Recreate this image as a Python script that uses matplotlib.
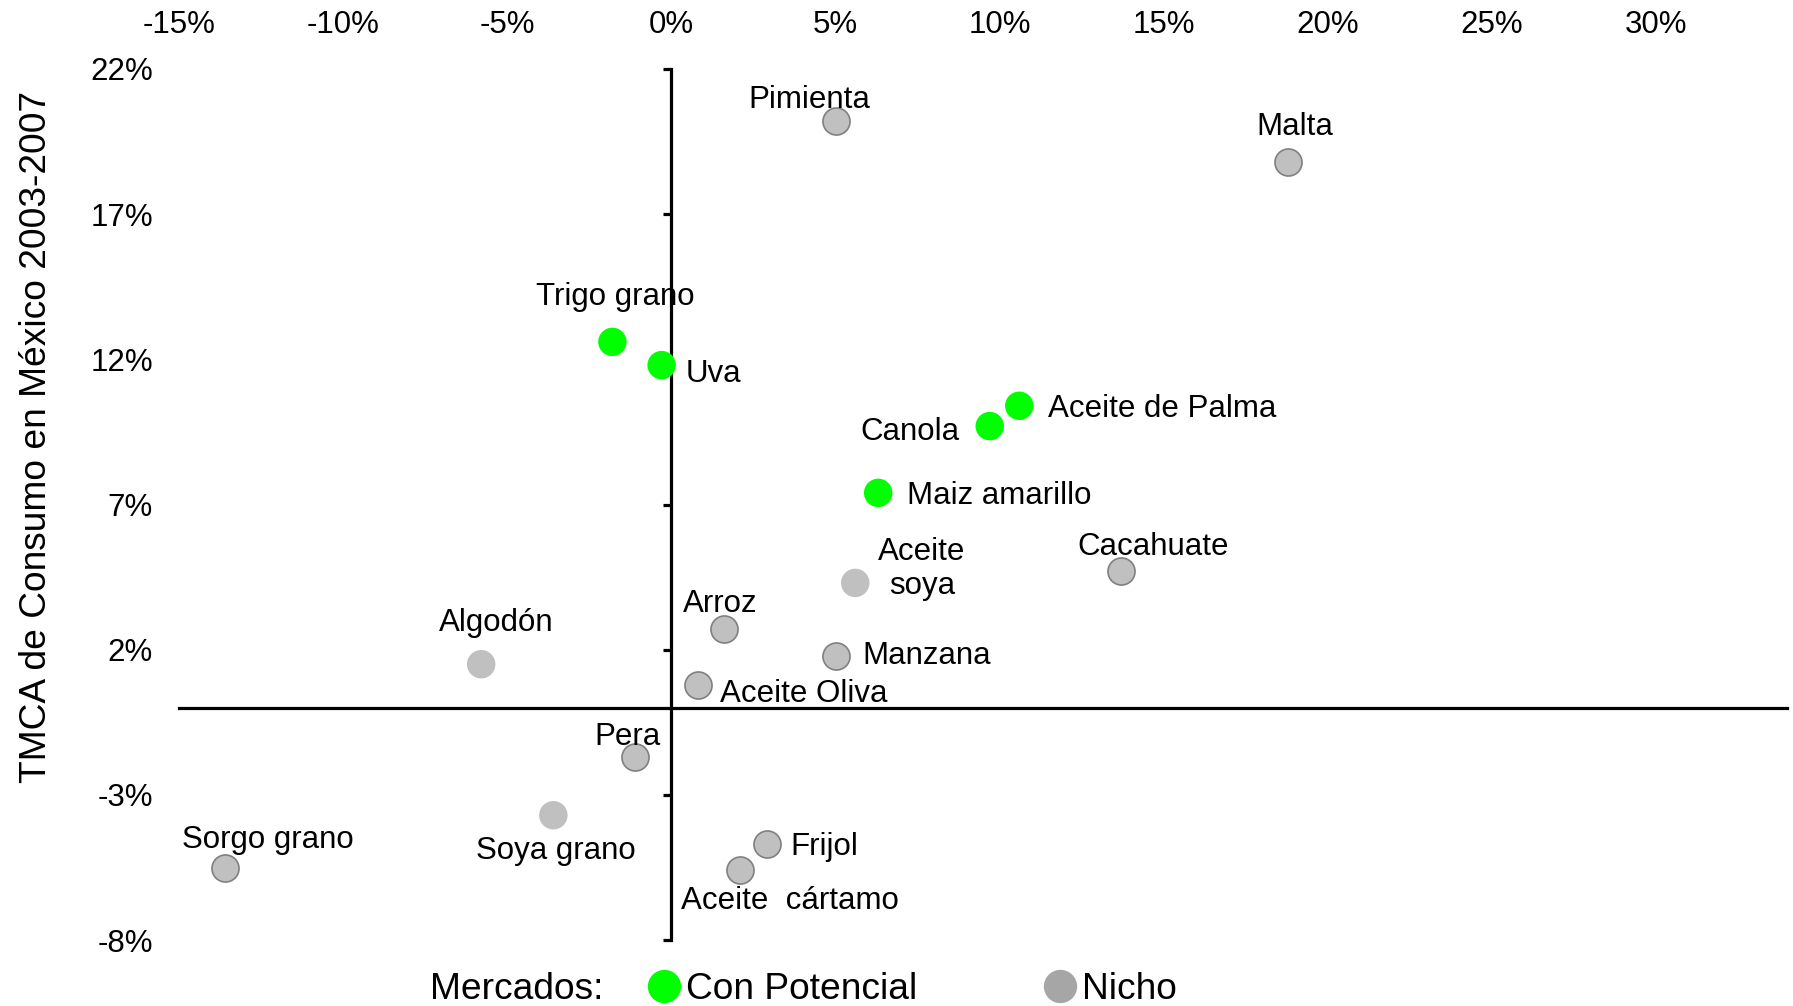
import matplotlib
matplotlib.use("Agg")
import matplotlib.pyplot as plt
from matplotlib.lines import Line2D
from matplotlib.ticker import FuncFormatter

plt.rcParams['font.family'] = ['Liberation Sans', 'DejaVu Sans']

# datos: TMCA de produccion (x) y de consumo (y), en %
productos = ["Pimienta", "Malta", "Trigo grano", "Uva", "Aceite de Palma", "Canola",
             "Maiz amarillo", "Aceite\nsoya", "Cacahuate", "Arroz", "Manzana",
             "Aceite Oliva", "Algodón", "Pera", "Soya grano", "Sorgo grano",
             "Frijol", "Aceite  cártamo"]
tmca_x = [5.0, 18.8, -1.8, -0.3, 10.6, 9.7, 6.3, 5.6, 13.7, 1.6, 5.0,
          0.8, -5.8, -1.1, -3.6, -13.6, 2.9, 2.1]
tmca_y = [20.2, 18.8, 12.6, 11.8, 10.4, 9.7, 7.4, 4.3, 4.7, 2.7, 1.8,
          0.8, 1.5, -1.7, -3.7, -5.5, -4.7, -5.6]
mercado = ["Nicho", "Nicho", "Con Potencial", "Con Potencial", "Con Potencial",
           "Con Potencial", "Con Potencial", "Nicho", "Nicho", "Nicho", "Nicho",
           "Nicho", "Nicho", "Nicho", "Nicho", "Nicho", "Nicho", "Nicho"]
x_ticks = [-15, -10, -5, 0, 5, 10, 15, 20, 25, 30]
y_ticks = [-8, -3, 2, 7, 12, 17, 22]

# estilo de las etiquetas: (dx, dy en puntos, ha)
etiqueta = {
    "Pimienta": (-19, 15.5, "center"), "Malta": (5, 25, "center"),
    "Trigo grano": (2, 32, "center"), "Uva": (17, -6.5, "left"),
    "Aceite de Palma": (21, -2, "left"), "Canola": (-22, -4.5, "right"),
    "Maiz amarillo": (21, -2, "left"), "Aceite\nsoya": (48, 10, "center"),
    "Cacahuate": (23, 17.5, "center"), "Arroz": (-3, 18.5, "center"),
    "Manzana": (19, -0.5, "left"), "Aceite Oliva": (16, -7, "left"),
    "Algodón": (11, 29.5, "center"), "Pera": (-6, 14.5, "center"),
    "Soya grano": (2, -26, "center"), "Sorgo grano": (31, 19.5, "center"),
    "Frijol": (17, -2, "left"), "Aceite  cártamo": (36, -22, "center"),
}
sin_borde = ["Algodón", "Soya grano", "Aceite\nsoya"]

fig = plt.figure(figsize=(17.93, 10.06), dpi=100)
ax = fig.add_axes([0.1, 0.0655, 0.8967, 0.866])
ax.set_xlim(-14.9, 34)
ax.set_ylim(-8, 22)

for n, x, y, m in zip(productos, tmca_x, tmca_y, mercado):
    if m == "Con Potencial":
        ax.scatter(x, y, s=420, color="#00ff00", edgecolor="none", zorder=3)
    elif n in sin_borde:
        ax.scatter(x, y, s=420, color="#c0c0c0", edgecolor="none", zorder=3)
    else:
        ax.scatter(x, y, s=380, color="#c0c0c0", edgecolor="#808080", linewidth=1.2, zorder=3)
    dx, dy, ha = etiqueta[n]
    ax.annotate(n, (x, y), xytext=(dx, dy), textcoords="offset points",
                ha=ha, va="center", fontsize=22.5, multialignment="center", zorder=4)

ax.spines['top'].set_visible(False)
ax.spines['right'].set_visible(False)
ax.spines['left'].set_position(('data', 0))
ax.spines['bottom'].set_position(('data', 0))
ax.spines['left'].set_linewidth(2.3)
ax.spines['bottom'].set_linewidth(2.3)

pct = FuncFormatter(lambda v, p: "%d%%" % v)
ax.xaxis.set_ticks_position('top')
ax.set_xticks(x_ticks)
ax.xaxis.set_major_formatter(pct)
ax.tick_params(axis='x', length=0, pad=20.5, labelsize=22.5)

ax.set_yticks(y_ticks)
ax.tick_params(axis='y', direction='out', length=6, width=2.3, labelleft=False)
sec = ax.secondary_yaxis('left')
sec.spines['left'].set_visible(False)
sec.set_yticks(y_ticks)
sec.yaxis.set_major_formatter(pct)
sec.tick_params(axis='y', length=0, pad=19, labelsize=22.5)

fig.text(37 / 1793, 0.5656, "TMCA de Consumo en México 2003-2007", rotation=90,
         ha="center", va="center", fontsize=26.7)

fig.text(430 / 1793, 0.016, "Mercados:", ha="left", va="center", fontsize=26.7)
handles = [Line2D([], [], ls="none", marker="o", markersize=24, color="#00ff00", mec="none"),
           Line2D([], [], ls="none", marker="o", markersize=24, color="#a6a6a6", mec="none")]
fig.legend(handles, ["Con Potencial", "Nicho"], ncol=2, loc="center left",
           bbox_to_anchor=(645 / 1793, 0.016), frameon=False, fontsize=26.7,
           handlelength=1.0, handletextpad=0.1, columnspacing=3.35,
           borderpad=0, borderaxespad=0)

fig.savefig("out.png", dpi=100)
